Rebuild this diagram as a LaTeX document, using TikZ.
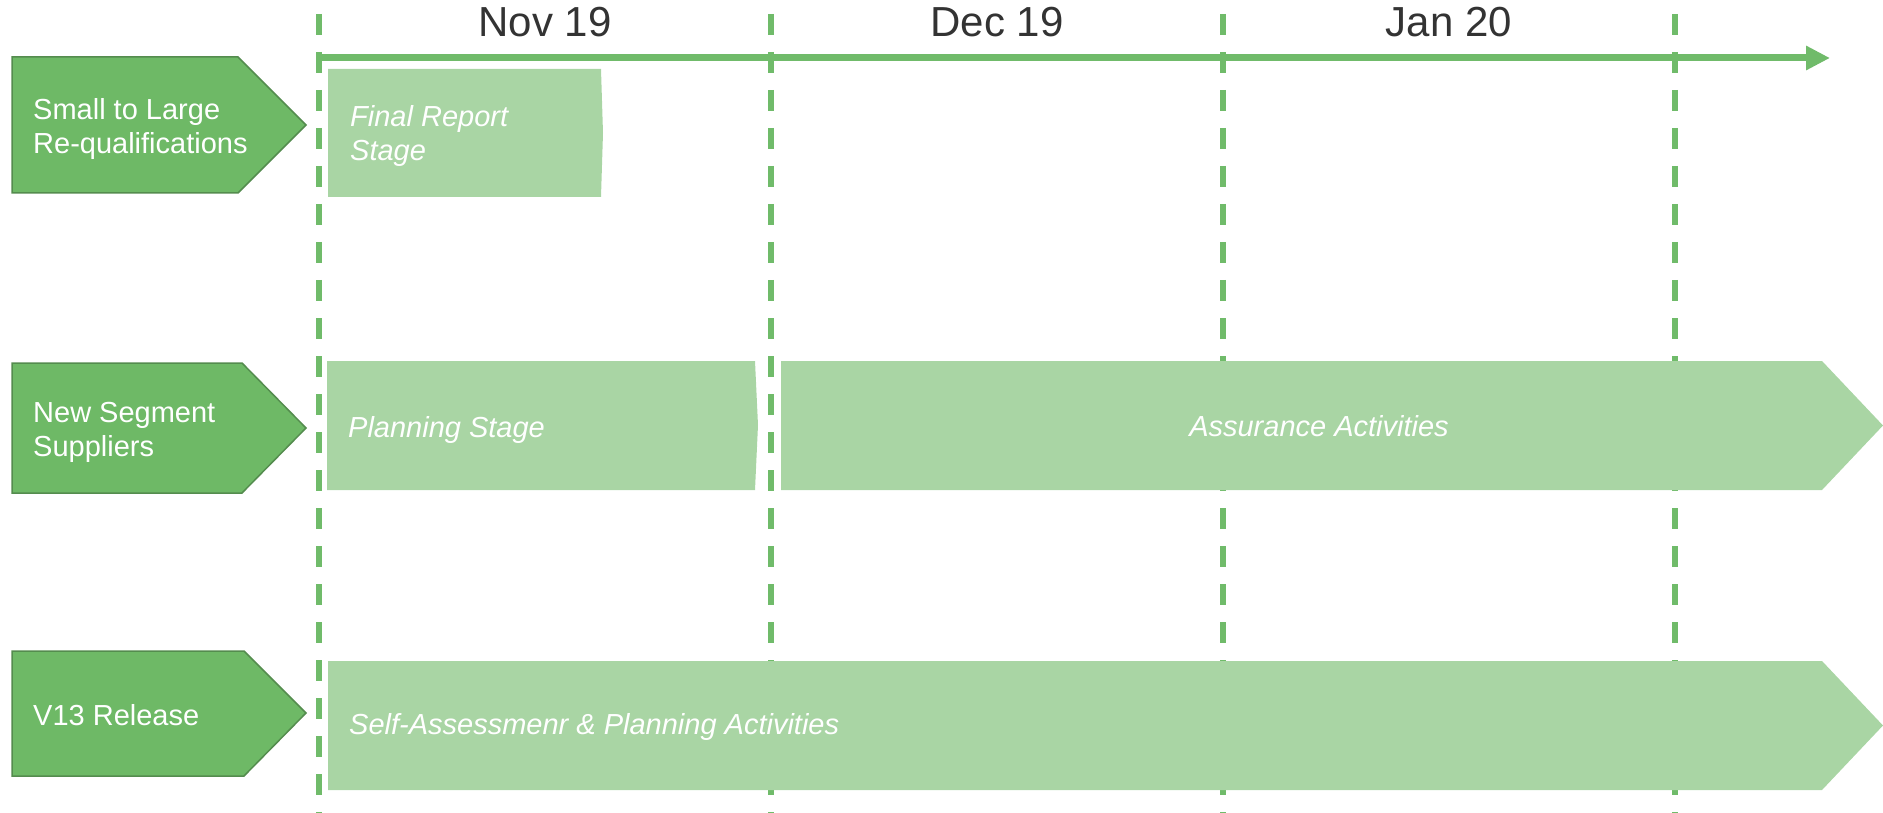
\documentclass[tikz,border=0pt]{standalone}
\usepackage{fontspec}
\setmainfont{Liberation Sans}
\usetikzlibrary{arrows.meta}

\definecolor{tlgreen}{RGB}{112,187,106}
\definecolor{rowgreen}{RGB}{110,185,102}
\definecolor{rowedge}{RGB}{84,140,78}
\definecolor{barlight}{RGB}{169,213,164}
\definecolor{monthtext}{RGB}{51,51,51}

\tikzset{
  monthline/.style={tlgreen, line width=5.5pt, dash pattern=on 21pt off 17pt},
  timeaxis/.style={tlgreen, line width=7pt, -{Triangle[length=24pt,width=23pt]}},
  rowlabel/.style={fill=rowgreen, draw=rowedge, line width=1.5pt},
  rowtext/.style={white, anchor=base west, align=left, inner sep=0pt,
    font=\fontsize{29}{34}\selectfont},
  bar/.style={fill=barlight, draw=none},
  bartext/.style={white, anchor=base west, align=left, inner sep=0pt,
    font=\fontsize{29}{34}\selectfont\itshape},
  monthlabel/.style={monthtext, anchor=base, inner sep=0pt,
    font=\fontsize{42}{48}\selectfont}
}

\begin{document}
\begin{tikzpicture}[x=1pt,y=-1pt]
    \useasboundingbox (0,0) rectangle (1883,813);

    % month boundaries
    \foreach \x in {319,771,1223,1675}
        \draw[monthline] (\x,14) -- (\x,813);

    % time axis
    \draw[timeaxis] (319,58) -- (1830,58);

    \node[monthlabel] (nov) at (545,37) {Nov 19};
    \node[monthlabel] (dec) at (997,37) {Dec 19};
    \node[monthlabel] (jan) at (1449,37) {Jan 20};

    % row labels (base = last line)
    \draw[rowlabel] (12,57) -- (238,57) -- (306,125) -- (238,193) -- (12,193) -- cycle;
    \draw[rowlabel] (12,363) -- (242,363) -- (306,428) -- (242,493) -- (12,493) -- cycle;
    \draw[rowlabel] (12,651) -- (244,651) -- (306,713) -- (244,776) -- (12,776) -- cycle;

    \node[rowtext] (req) at (33,154) {Small to Large\\Re-qualifications};
    \node[rowtext] (seg) at (33,456) {New Segment\\Suppliers};
    \node[rowtext] (rel) at (33,725) {V13 Release};

    % activity bars
    \draw[bar] (328,69) -- (601,69) -- (603,133) -- (601,197) -- (328,197) -- cycle;
    \draw[bar] (327,361) -- (755,361) -- (758,425) -- (755,490) -- (327,490) -- cycle;
    \draw[bar] (781,361) -- (1822,361) -- (1883,425.5) -- (1822,490) -- (781,490) -- cycle;
    \draw[bar] (328,661) -- (1822,661) -- (1883,725.5) -- (1822,790) -- (328,790) -- cycle;

    \node[bartext] (final) at (350,161) {Final Report\\Stage};
    \node[bartext] (plan) at (348,437) {Planning Stage};
    \node[bartext, anchor=base] (assure) at (1319,436) {Assurance Activities};
    \node[bartext] (self) at (349,734) {Self-Assessmenr \& Planning Activities};

\end{tikzpicture}
\end{document}
